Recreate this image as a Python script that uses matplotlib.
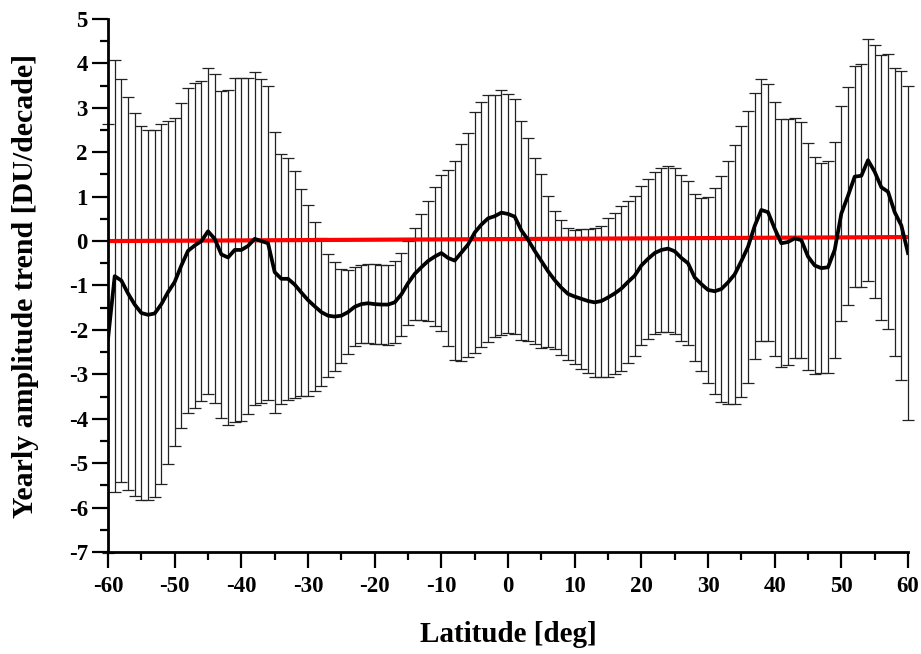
import matplotlib

matplotlib.use("Agg")
import matplotlib.pyplot as plt
from matplotlib.ticker import MultipleLocator

plt.rcParams.update(
    {
        "font.family": ["Liberation Serif", "DejaVu Serif"],
        "font.weight": "bold",
        "axes.unicode_minus": False,
    }
)

# latitude grid (deg)
lat = list(range(-60, 61))

# yearly amplitude trend per latitude [DU/decade]
trend = [
    -2.20, -0.79, -0.89, -1.18, -1.43, -1.62, -1.66, -1.63, -1.42, -1.15,
    -0.92, -0.55, -0.22, -0.10, 0.00, 0.22, 0.05, -0.30, -0.37, -0.20,
    -0.20, -0.11, 0.05, 0.00, -0.05, -0.70, -0.85, -0.85, -0.98, -1.16,
    -1.33, -1.47, -1.60, -1.68, -1.70, -1.68, -1.60, -1.48, -1.42, -1.40,
    -1.42, -1.43, -1.43, -1.38, -1.20, -0.95, -0.74, -0.59, -0.45, -0.35,
    -0.27, -0.38, -0.44, -0.26, -0.08, 0.19, 0.37, 0.51, 0.56, 0.64,
    0.61, 0.55, 0.24, 0.03, -0.22, -0.45, -0.68, -0.88, -1.05, -1.19,
    -1.25, -1.30, -1.35, -1.38, -1.35, -1.27, -1.18, -1.07, -0.92, -0.78,
    -0.55, -0.40, -0.27, -0.20, -0.17, -0.23, -0.38, -0.50, -0.82, -0.97,
    -1.10, -1.13, -1.08, -0.93, -0.75, -0.45, -0.13, 0.34, 0.70, 0.65,
    0.28, -0.05, -0.02, 0.06, 0.02, -0.35, -0.55, -0.61, -0.59, -0.20,
    0.62, 1.02, 1.45, 1.47, 1.82, 1.56, 1.21, 1.11, 0.65, 0.35,
    -0.27,
]

# half-width of the uncertainty bars
trend_err = [
    4.83, 4.87, 4.54, 4.42, 4.31, 4.22, 4.16, 4.14, 4.05, 3.86,
    3.70, 3.65, 3.66, 3.65, 3.60, 3.67, 3.70, 3.68, 3.77, 3.87,
    3.86, 3.78, 3.75, 3.64, 3.53, 3.16, 2.82, 2.72, 2.56, 2.33,
    2.15, 1.90, 1.66, 1.39, 1.22, 1.06, 0.95, 0.89, 0.88, 0.89,
    0.90, 0.88, 0.90, 0.92, 0.93, 0.95, 1.03, 1.19, 1.36, 1.56,
    1.75, 1.99, 2.24, 2.45, 2.52, 2.71, 2.75, 2.78, 2.73, 2.75,
    2.69, 2.64, 2.46, 2.29, 2.10, 1.95, 1.70, 1.56, 1.52, 1.48,
    1.51, 1.58, 1.63, 1.67, 1.70, 1.78, 1.82, 1.85, 1.83, 1.80,
    1.78, 1.80, 1.83, 1.84, 1.87, 1.87, 1.86, 1.85, 1.89, 1.95,
    2.09, 2.32, 2.54, 2.73, 2.91, 3.05, 3.06, 2.99, 2.94, 2.89,
    2.86, 2.79, 2.77, 2.70, 2.65, 2.55, 2.44, 2.37, 2.39, 2.43,
    2.42, 2.45, 2.49, 2.51, 2.73, 2.85, 2.99, 3.10, 3.24, 3.48,
    3.75,
]

# linear fit across latitudes (end points)
fit_lat = [-60, 60]
fit_val = [0.0, 0.09]

fig = plt.figure(figsize=(9.21, 6.54), dpi=100)
ax = fig.add_axes([0.1173, 0.156, 0.8686, 0.815])

bars = ax.errorbar(
    lat,
    trend,
    yerr=trend_err,
    fmt="none",
    ecolor="#222222",
    elinewidth=0.9,
    capsize=4.3,
    capthick=0.9,
    zorder=1,
)
# bars at the ends stick out past the axes, as in the original
for artist in list(bars.lines[1]) + list(bars.lines[2]):
    artist.set_clip_on(False)

ax.plot(fit_lat, fit_val, color="#ff0000", linewidth=3.0, zorder=2)
ax.plot(lat, trend, color="black", linewidth=2.7, zorder=3)

ax.set_xlim(-60, 60)
ax.set_ylim(-7, 5)
ax.xaxis.set_major_locator(MultipleLocator(10))
ax.xaxis.set_minor_locator(MultipleLocator(5))
ax.yaxis.set_major_locator(MultipleLocator(1))
ax.yaxis.set_minor_locator(MultipleLocator(0.5))

ax.spines[["top", "right"]].set_visible(False)
for side in ("left", "bottom"):
    ax.spines[side].set_linewidth(2.0)
    ax.spines[side].set_zorder(4)

ax.tick_params(axis="x", which="major", direction="out", length=11.5, width=1.6, pad=6, labelsize=16.5)
ax.tick_params(axis="x", which="minor", direction="out", length=5.5, width=1.6)
ax.tick_params(axis="y", which="major", direction="out", length=11.5, width=1.6, pad=3, labelsize=16.5)
ax.tick_params(axis="y", which="minor", direction="out", length=5.5, width=1.6)
for label in ax.get_xticklabels() + ax.get_yticklabels():
    label.set_fontweight("bold")

ax.set_xlabel("Latitude [deg]", fontsize=21, fontweight="bold", labelpad=17)
ax.set_ylabel("Yearly amplitude trend [DU/decade]", fontsize=21.5, fontweight="bold", labelpad=21)

fig.savefig("out.png", dpi=100)
